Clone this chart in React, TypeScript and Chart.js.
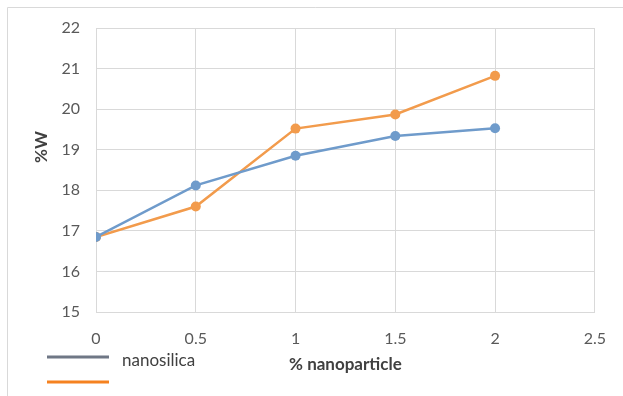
import React, { useEffect, useRef } from "react";
import { Chart, registerables } from "chart.js";

Chart.register(...registerables);

const xValues = [0, 0.5, 1, 1.5, 2];
const nanosilicaValues = [16.85, 18.12, 18.85, 19.34, 19.53];
const secondSeriesValues = [16.85, 17.6, 19.52, 19.87, 20.82];
const legendLabels = ["nanosilica", ""];
const xTitle = "% nanoparticle";
const yTitle = "%W";

const FONT = "Lato, 'Open Sans', sans-serif";

const decorPlugin = {
  id: "decor",
  afterDraw(chart: any) {
    const ctx = chart.ctx as CanvasRenderingContext2D;
    ctx.save();
    ctx.strokeStyle = "#d9d9d9";
    ctx.lineWidth = 1;
    ctx.beginPath();
    ctx.moveTo(7.5, 396);
    ctx.lineTo(7.5, 7.5);
    ctx.lineTo(623, 7.5);
    ctx.stroke();
    ctx.fillStyle = "#404040";
    ctx.font = `bold 17px ${FONT}`;
    ctx.textAlign = "center";
    ctx.textBaseline = "middle";
    ctx.translate(42, 147);
    ctx.rotate(-Math.PI / 2);
    ctx.fillText(yTitle, 0, 0);
    ctx.restore();

    ctx.save();
    const area = chart.chartArea;
    ctx.fillStyle = "#404040";
    ctx.font = `bold 17px ${FONT}`;
    ctx.textAlign = "center";
    ctx.textBaseline = "middle";
    ctx.fillText(xTitle, (area.left + area.right) / 2, 365);
    const colors = ["#6f7785", "#f58220"];
    const ys = [357, 382];
    ctx.lineWidth = 3;
    ctx.textAlign = "left";
    for (let i = 0; i < colors.length; i++) {
      ctx.strokeStyle = colors[i];
      ctx.beginPath();
      ctx.moveTo(47, ys[i]);
      ctx.lineTo(109, ys[i]);
      ctx.stroke();
      if (legendLabels[i]) {
        ctx.fillStyle = "#404040";
        ctx.font = `17px ${FONT}`;
        ctx.fillText(legendLabels[i], 122, ys[i] + 4);
      }
    }
    ctx.restore();
  },
};

export default function App() {
  const ref = useRef<HTMLCanvasElement | null>(null);
  useEffect(() => {
    if (!ref.current) return;
    const chart = new Chart(ref.current, {
      type: "line",
      data: {
        datasets: [
          {
            label: legendLabels[0],
            data: xValues.map((x, i) => ({ x, y: nanosilicaValues[i] })),
            borderColor: "#6f9bcb",
            backgroundColor: "#6f9bcb",
            borderWidth: 2.5,
            pointRadius: 5,
            pointBorderWidth: 0,
          },
          {
            label: legendLabels[1],
            data: xValues.map((x, i) => ({ x, y: secondSeriesValues[i] })),
            borderColor: "#f29b4c",
            backgroundColor: "#f29b4c",
            borderWidth: 2.5,
            pointRadius: 5,
            pointBorderWidth: 0,
          },
        ],
      },
      options: {
        animation: false,
        responsive: false,
        layout: { padding: { top: 28, right: 26, left: 0, bottom: 0 } },
        plugins: { legend: { display: false }, tooltip: { enabled: false } },
        scales: {
          x: {
            type: "linear",
            min: 0,
            max: 2.5,
            ticks: {
              stepSize: 0.5,
              padding: 17,
              color: "#595959",
              font: { family: FONT, size: 16 },
              callback: (v: any) => String(Number(v)),
            },
            grid: { color: "#d9d9d9", drawTicks: false },
            border: { color: "#d9d9d9" },
            afterFit(scale: any) {
              scale.height = 84;
            },
          },
          y: {
            min: 15,
            max: 22,
            ticks: {
              stepSize: 1,
              padding: 16,
              color: "#595959",
              font: { family: FONT, size: 16 },
            },
            grid: { color: "#d9d9d9", drawTicks: false },
            border: { color: "#d9d9d9" },
            afterFit(scale: any) {
              scale.width = 96;
            },
          },
        },
      },
      plugins: [decorPlugin],
    });
    return () => chart.destroy();
  }, []);
  return (
    <div style={{ position: "fixed", left: 0, top: 0, width: 623, height: 396, background: "#fff" }}>
      <canvas ref={ref} width={623} height={396} style={{ width: 623, height: 396 }} />
    </div>
  );
}
